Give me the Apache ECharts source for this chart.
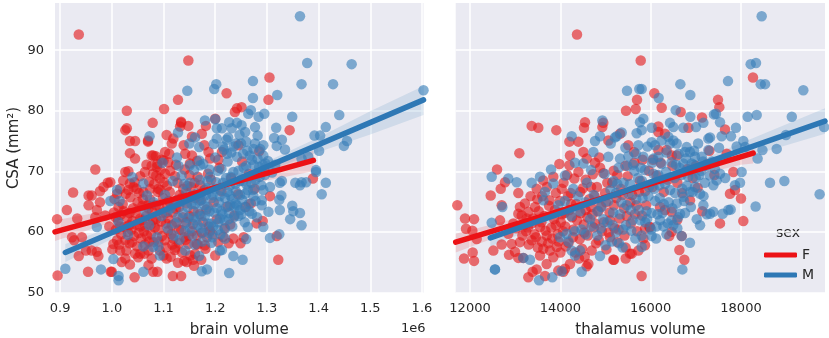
<!DOCTYPE html>
<html><head><meta charset="utf-8">
<style>html,body{margin:0;padding:0;background:#fff}#c{width:829px;height:338px}</style>
<script src="https://cdn.jsdelivr.net/npm/echarts@6/dist/echarts.min.js"></script>
</head><body><div id="c"></div>
<script>
const brainTicks=[0.9,1.0,1.1,1.2,1.3,1.4,1.5,1.6];
const thalamusTicks=[12000,14000,16000,18000];
const csaTicks=[50,60,70,80,90];
const brainF=[[0.936,92.6],[1.148,88.3],[1.128,81.8],[1.029,80],[1.101,80.3],[1.079,78],[1.134,78],[1.148,77.5],[1.029,77.1],[1.026,76.8],[1.106,76],[1.07,74.9],[1.07,75.1],[1.035,75],[1.045,75],[1.035,73],[1.045,72.1],[1.077,72.6],[0.968,70.3],[1.032,70],[1.305,85.5],[1.222,82.9],[1.303,81.8],[1.242,80.4],[1.251,80.6],[1.238,79.8],[1.344,76.8],[1.389,68.8],[1.306,65.9],[1.292,61.8],[1.28,61.4],[1.269,64.7],[1.322,55.4],[1.319,59.3],[1.255,59.1],[1.249,58.1],[1.235,58.9],[1.226,58.1],[0.895,52.8],[0.954,53.4],[0.998,53.4],[1.044,52.5],[1.08,53.4],[1.088,53.4],[1.118,52.7],[1.134,52.7],[0.894,62.1],[0.913,63.6],[0.925,66.5],[0.955,66],[0.961,66],[0.955,64.4],[0.933,62.2],[0.977,64.9],[0.992,68.1],[0.984,67.4],[0.977,66.7],[0.971,63.6],[0.968,62.4],[0.923,59.1],[0.942,59.1],[0.936,56],[0.95,56.9],[0.961,56.9],[0.971,56.7],[0.974,56],[0.927,58.6],[1.003,58],[1.103,73.2],[1.085,72.5],[1.08,72.6],[1.109,71.5],[1.151,71.3],[1.142,72.9],[1.187,73.2],[1.179,74.3],[1.139,74.3],[1.116,74.6],[1.134,78.2],[1.132,77.4],[1.182,77.5],[1.174,76.2],[1.155,75.7],[1.119,75.4],[1.2,78.7],[1.245,74.3],[1.213,73.2],[1.206,71.9],[1.026,69.9],[1.055,69.2],[1.022,68.5],[0.997,68.2],[1.035,68],[1.042,67.4],[1.016,67.1],[1.01,66.3],[1.061,66.6],[1.074,67.1],[1.09,67.1],[1.093,68.8],[1.103,69.6],[1.1,71.8],[1.087,70.7],[1.08,69.6],[1.01,58.6],[1.026,58.6],[1.039,58.3],[1.016,56.9],[1.026,55.6],[1.035,54.6],[1.019,55],[1,53.4],[1.055,56.4],[1.051,55.8],[1.071,54.5],[1.071,56.9],[1.1,56.1],[1.106,55.6],[1.122,57],[1.148,58],[1.164,58],[1.18,57.8],[1.161,56.4],[1.157,55.4],[1.145,55],[1.14,55.2],[1.2,56.1],[1.19,60.2],[1.004,63.2],[1.012,61.9],[1.021,64.6],[1.008,60.4],[0.987,62.7],[0.995,60.9],[1.018,59.6],[1.03,62.3],[1.036,65.7],[1.041,63.9],[1.047,61.2],[1.053,66.4],[1.059,64.3],[1.062,60.1],[1.066,62.6],[1.072,68.3],[1.074,65.4],[1.078,63.4],[1.083,60.7],[1.086,69.3],[1.089,66.6],[1.092,64.1],[1.095,61.7],[1.097,59.3],[1.104,63.1],[1.107,67.6],[1.11,65.1],[1.113,70.1],[1.116,61.1],[1.119,58.9],[1.124,63.8],[1.127,68.1],[1.131,66.1],[1.134,60.3],[1.137,62.4],[1.141,70.3],[1.145,64.7],[1.149,59.4],[1.153,67.4],[1.157,61.3],[1.161,65.6],[1.166,69.1],[1.17,62.9],[1.174,59.9],[1.179,66.9],[1.183,63.7],[1.188,60.9],[1.192,68.6],[1.197,64.9],[1.203,62.1],[1.208,70.6],[1.212,66.7],[1.218,60.6],[1.224,64.2],[1.231,68.9],[1.237,62.7],[1.244,66.2],[1.252,71.6],[1.259,64.1],[1.265,69.6],[1.276,67.1],[1.285,73.3],[1.295,70.2],[1.001,57.1],[1.014,57.9],[1.024,60.8],[1.028,56.9],[1.033,61.1],[1.043,59.3],[1.049,57.6],[1.057,58.9],[1.063,56.4],[1.068,59.4],[1.077,55.6],[1.081,58.3],[1.086,62.1],[1.093,56.9],[1.102,58.6],[1.109,60.2],[1.114,55.9],[1.123,57.4],[1.128,54.9],[1.136,56.6],[1.143,58.7],[1.152,56.1],[1.159,54.4],[1.166,57.9],[1.173,55.4],[1.184,59.1],[1.206,58.3],[1.215,59.2],[1.229,61.2],[1.005,65.4],[1.017,62.8],[1.027,66.3],[1.038,60.4],[1.044,68.2],[1.05,64.9],[1.058,61.9],[1.064,69.9],[1.069,64.4],[1.075,61.2],[1.082,67.9],[1.088,71.2],[1.094,70.2],[1.099,65.6],[1.105,61.4],[1.112,66.6],[1.118,63.2],[1.122,69.2],[1.13,64.1],[1.138,67.1],[1.144,61.6],[1.15,69.4],[1.158,63.4],[1.165,71.7],[1.172,65.2],[1.19,72.1]];
const brainFDense=[[1.007,62.4],[1.015,60.9],[1.023,63.4],[1.031,60],[1.034,63.1],[1.04,61.8],[1.046,63.1],[1.052,59.8],[1.055,62.2],[1.06,65.4],[1.065,60.9],[1.071,63.9],[1.076,59.6],[1.08,61.9],[1.085,64.4],[1.09,60.4],[1.094,66.9],[1.098,63.2],[1.101,68.2],[1.106,64.6],[1.109,62.2],[1.115,59.6],[1.12,64.7],[1.125,61.6],[1.13,58.1],[1.135,65.6],[1.14,59.1],[1.146,67.6],[1.15,62.6],[1.155,60.1],[1.16,68.1],[1.165,59.4],[1.171,67.7],[1.176,61.6],[1.181,57.2],[1.186,69.6],[1.195,59.6],[1.034,58.1],[1.045,56.4],[1.055,60.9],[1.064,57.9],[1.072,58.4],[1.09,58.4],[1.105,57.4],[1.117,57.9],[1.13,60.4],[1.032,66.9],[1.013,64.1],[1.048,67.1],[1.067,71.1],[1.096,71.9],[1.077,70.9],[1.111,72.9],[1.124,71.1],[1.155,72.6]];
const brainM=[[1.364,95.6],[1.378,87.9],[1.464,87.7],[1.367,84.4],[1.428,84.4],[1.273,84.9],[1.273,82.1],[1.32,82.6],[1.603,83.4],[1.44,79.3],[1.349,79],[1.295,79.5],[1.269,80.1],[1.284,79],[1.264,79.5],[1.414,77.3],[1.318,77.2],[1.392,75.9],[1.403,75.9],[1.455,75],[1.449,74.2],[1.401,73.4],[1.314,75.5],[1.329,75.2],[1.319,74.2],[1.335,73.6],[1.282,75.9],[1.277,77.3],[1.227,78.1],[1.242,78],[1.251,77.6],[1.232,77.1],[1.258,76.5],[1.247,76],[1.213,77.1],[1.222,75.2],[1.277,74.6],[1.274,73.7],[1.267,72.6],[1.287,73.7],[1.293,74.3],[1.293,72.6],[1.297,71.3],[1.38,72.4],[1.367,72.1],[1.395,70.2],[1.073,75.8],[1.146,83.3],[1.198,83.6],[1.202,84.4],[1.18,78.4],[1.2,78.6],[1.128,76.4],[1.15,74.6],[1.161,75.6],[1.169,74],[1.197,74.5],[1.203,75.4],[1.203,77.1],[1.126,72.3],[1.098,71.4],[1.129,70.9],[1.151,71],[1.169,71.8],[1.171,71],[1.189,70.3],[0.91,53.9],[0.979,53.8],[1.013,52.7],[1.013,52],[1.003,55.5],[1.061,53.4],[1.174,53.5],[1.184,53.8],[1.01,66.9],[0.997,65.1],[1.015,65.1],[0.971,60.8],[1.031,59.5],[1.013,61.6],[1.068,66],[1.04,69],[1.061,68],[1.093,56.1],[1.142,56.9],[1.169,56],[1.061,57.6],[1.08,57.5],[1.193,58.2],[1.209,56.9],[1.227,53.2],[1.253,55.4],[1.235,56],[1.213,57],[1.26,58.8],[1.219,58.9],[1.306,59],[1.324,59.6],[1.367,61.1],[1.345,62.1],[1.364,63.1],[1.325,63.6],[1.303,63.3],[1.351,63.4],[1.349,64.3],[1.324,65.3],[1.328,66],[1.406,66.2],[1.414,68.1],[1.364,67.7],[1.367,68.2],[1.355,68.1],[1.376,68.2],[1.395,69.9],[1.325,68.1],[1.329,68.4],[1.263,60.8],[1.293,60.8],[1.29,64.4],[1.29,65.2],[1.271,63],[1.248,63.6],[1.229,64.4],[1.239,64.7],[1.219,60.5],[1.209,62.2],[1.229,66],[1.258,66.3],[1.273,66.9],[1.293,66.9],[1.306,67.4],[1.065,63.4],[1.072,61.1],[1.081,64.9],[1.087,59.1],[1.096,62.6],[1.103,66.1],[1.108,60.6],[1.114,63.9],[1.118,68.4],[1.122,61.4],[1.126,65.2],[1.131,58.7],[1.135,69.3],[1.138,63.1],[1.141,60.1],[1.144,66.7],[1.147,62.3],[1.151,68.1],[1.154,64.6],[1.156,59.4],[1.159,70.2],[1.162,61.9],[1.164,66.3],[1.167,63.4],[1.17,68.6],[1.172,60.6],[1.175,65.4],[1.177,71.2],[1.18,62.6],[1.183,67.2],[1.185,64.1],[1.188,59.8],[1.19,69.1],[1.192,61.4],[1.195,66.1],[1.198,63.2],[1.2,72.3],[1.202,68.2],[1.205,60.3],[1.207,64.9],[1.21,66.9],[1.212,70.4],[1.214,62.9],[1.217,73.6],[1.219,65.6],[1.221,68.9],[1.224,71.6],[1.226,62.1],[1.228,67.6],[1.231,73.1],[1.233,60.9],[1.235,69.9],[1.237,64.1],[1.24,66.7],[1.242,72.4],[1.245,62.6],[1.247,68.4],[1.25,74.6],[1.252,65.3],[1.255,70.6],[1.257,61.6],[1.26,67.9],[1.262,73.4],[1.265,64.6],[1.268,69.2],[1.271,71.9],[1.274,65.9],[1.278,68.6],[1.281,62.4],[1.285,70.7],[1.289,67.7],[1.296,69.4],[1.302,71.7],[1.31,69.8],[1.316,71.1],[1.225,75.6],[1.26,74.9],[1.24,74.6],[1.215,74.1]];
const brainMDense=[[1.128,62.4],[1.134,64.9],[1.142,61.4],[1.146,64.1],[1.152,60.6],[1.158,62.4],[1.161,64.6],[1.166,61.1],[1.169,65.1],[1.173,62.6],[1.176,59.9],[1.179,64.4],[1.182,66.1],[1.186,61.4],[1.189,63.4],[1.193,65.6],[1.196,60.9],[1.199,67.1],[1.203,63.9],[1.206,61.6],[1.209,65.9],[1.212,63.4],[1.215,68.1],[1.218,61.9],[1.221,64.1],[1.224,66.6],[1.227,63.1],[1.23,69.1],[1.233,65.4],[1.236,62.4],[1.239,67.9],[1.242,64.4],[1.245,70.1],[1.248,66.1],[1.251,62.9],[1.254,68.4],[1.257,64.1],[1.26,70.9],[1.263,66.9],[1.266,63.4],[1.27,68.1],[1.274,71.1],[1.278,65.1],[1.282,72.1],[1.286,69.1],[1.292,71.1],[1.223,72.9],[1.236,74.1],[1.254,72.9],[1.17,66.1],[1.155,65.9],[1.205,70.1],[1.185,68.4],[1.14,67.9],[1.12,59.4],[1.108,63.4],[1.09,57.6],[1.175,58.4],[1.195,59.1],[1.16,57.9],[1.21,59.6]];
const thalamusF=[[14369,92.6],[15780,88.3],[15698,81.8],[15668,80.3],[15454,80],[14546,78.1],[14951,78],[14524,77.2],[14930,77.3],[13365,77.5],[13512,77.2],[13911,76.8],[14200,74.9],[14399,74.9],[13092,73],[12598,70.3],[13978,71.2],[14214,72.6],[14509,73.2],[14200,71],[14768,71.4],[14584,72.1],[14862,72.3],[15321,76.2],[15063,75.1],[15505,74.3],[15631,73.2],[18265,85.5],[16081,82.9],[17491,81.8],[17520,80.6],[16244,80.5],[16665,79.8],[17137,78.9],[16836,77.2],[17646,76.9],[16170,77.4],[16170,76.5],[16317,76.2],[16576,72.6],[16170,73.5],[16354,73.5],[17683,72.9],[18051,61.8],[17535,61.4],[18000,65.5],[17756,66.3],[17867,66.9],[17830,69.9],[17143,63.4],[16871,65.2],[16589,62],[16465,60],[16412,59.3],[16687,59.3],[16635,57],[16746,55.4],[15800,52.7],[15972,60.8],[15875,60.5],[15838,58.9],[15875,57.8],[16207,64.1],[16317,63.6],[16465,63.3],[11719,64.4],[11889,62.2],[12089,62.1],[11911,60.5],[12052,60.2],[12148,58.8],[12059,56.6],[11867,55.6],[12089,55.2],[12664,61.9],[12458,66],[12775,68.2],[12680,67.1],[13070,66.4],[12701,64.4],[12517,56.9],[12701,57.9],[12922,58],[13106,58.3],[12848,59.7],[12959,61.4],[12863,56.2],[12996,56.7],[13070,55.7],[13180,55.7],[13291,52.5],[13387,53.4],[13476,53.8],[13660,52.7],[13550,56.1],[13697,54.7],[13844,55.8],[13771,56.9],[13919,57.5],[13623,57.2],[13106,64.1],[13217,64.7],[13291,63.3],[13145,62.7],[13256,62.2],[13070,63],[13402,62.2],[13550,60.8],[13365,58.6],[13955,53.6],[14103,53.9],[14694,56.9],[14620,54.7],[15188,55.4],[15447,55.6],[15542,56.4],[15727,56.9],[13623,68.5],[13844,69.1],[13476,67.1],[15173,55.4],[15579,56.4],[15447,57.4],[14584,54.3],[14214,54.7],[14066,53.4],[14413,55.6],[15985,60.8],[14150,69.4],[14310,68.8],[14720,69.5],[14950,69.7],[15180,70.1],[14500,67.2],[14030,67.1],[13760,65.2],[13280,60.7],[13430,59.6],[13670,60.2],[13820,58.9],[13940,59.6],[14060,60.1],[14180,58.2],[14290,60.4],[14430,58.8],[14520,61.2],[14610,59.4],[14740,60.7],[14850,58.6],[14960,61.6],[15070,59.9],[15200,60.6],[15310,62.2],[15420,59.4],[15560,61.4],[15700,60.1],[15810,62.7],[13520,63.4],[13640,62.6],[13750,64.3],[13860,62.1],[13990,65.1],[14090,63.1],[14170,65.9],[14260,62.4],[14350,64.6],[14440,66.6],[14560,63.6],[14640,65.4],[14710,62.9],[14810,67.4],[14900,64.2],[14990,66.4],[15090,63.2],[15150,68.1],[15240,65.6],[15340,67.1],[15410,63.9],[15490,69.2],[15590,66.1],[15680,64.4],[15760,68.4],[15880,66.7],[15960,70.1],[16040,67.4],[16130,69.3],[16220,71.4],[16290,66.6],[16380,68.6],[16480,70.9],[16590,68.1],[16700,66.4],[16810,70.4],[16930,68.9],[17040,67.3],[17250,71.2],[17410,69.4],[13190,61.1],[13340,65.9],[13490,65.4],[13590,58.4],[13730,58.1],[13900,61.1],[14010,61.6],[14120,57.6],[14330,56.6],[14480,57.2],[14790,58.1],[15020,57.1],[15260,58.3]];
const thalamusFDense=[[13240,60.1],[13370,61.4],[13460,59.1],[13580,61.6],[13700,59.4],[13800,60.7],[13880,63.6],[13960,58.4],[14040,62.9],[14110,60.9],[14200,63.6],[14280,59.1],[14370,61.9],[14450,63.1],[14530,59.9],[14600,62.4],[14680,64.1],[14770,61.4],[14840,63.4],[14920,60.1],[15010,64.9],[15100,61.9],[15190,64.4],[15290,60.4],[15380,66.1],[15470,62.6],[15550,64.9],[15650,62.9],[15740,66.6],[15900,64.4],[13160,59.4],[13300,57.9],[13440,64.1],[13600,65.9],[13700,67.4],[13900,66.4],[14070,68.1],[14230,66.4],[14400,69.9],[14560,68.6],[14680,67.4],[14880,70.6],[15040,68.1],[15260,69.4],[15440,70.9],[15640,71.4],[15820,71.9],[13020,60.6],[13500,57.4],[14000,56.6],[14540,55.9],[15100,59.1],[14240,64.6],[14760,65.9],[16050,71.9],[16470,72.6],[17000,70.9],[17300,73.4]];
const thalamusM=[[18458,95.6],[18214,87.7],[18332,87.9],[18437,84.4],[18533,84.4],[19380,83.4],[17712,84.9],[16657,84.4],[16878,82.6],[16177,82.1],[15801,83.6],[18148,79],[18348,79.3],[19125,79],[16554,80.1],[16878,79],[17402,79.4],[17446,79.5],[17535,78.1],[17167,78],[17889,77.2],[17778,75.8],[17572,75.8],[19840,77.3],[18996,76],[18790,73.7],[18475,73.5],[18368,72.1],[18051,75],[17904,74.1],[18090,74],[17513,73.9],[17277,75.4],[17314,75.6],[17277,73.5],[15838,78.7],[15764,78.1],[16023,77.2],[16428,78],[16502,77.3],[16723,77.2],[17004,77.3],[15801,76.8],[16023,74.8],[16096,74.3],[16391,75.7],[16502,75.1],[16576,74.6],[16428,74.6],[16797,74],[16870,73.2],[17130,72.4],[16760,73.2],[16981,72.4],[16170,72.4],[16060,72.1],[15838,72.4],[16465,71.5],[16723,71.3],[16908,71.3],[19741,66.2],[18642,68.1],[18960,68.4],[18324,64.2],[18014,69.9],[17978,68.1],[17867,67.7],[17771,63.7],[17719,63.6],[17594,63],[17387,63.3],[17314,63],[17167,64.4],[17093,61.1],[16687,59.3],[16870,58.2],[16701,53.8],[16023,59.3],[16280,60.9],[16207,61.9],[15801,57.5],[17461,68.5],[17387,67.7],[17314,69.3],[17535,69.6],[17093,66.3],[16981,67.4],[16870,66.6],[16723,65.8],[16576,64.7],[16650,63],[12480,69.1],[12480,61.5],[12848,68.8],[13033,68.2],[13365,68.1],[12716,64.1],[12553,53.8],[12553,53.8],[13528,52],[13822,52.5],[14029,53.5],[14472,53.4],[14878,56],[13180,55.7],[13328,55.4],[13623,65.2],[13660,66.6],[13550,69.1],[13844,68],[14103,69.3],[14287,67.1],[13955,64.4],[13993,59.1],[14141,59.7],[14325,56.1],[14435,56.9],[14252,56.9],[14251,75.8],[14930,78.4],[15476,83.3],[15748,83.6],[15358,76.4],[15247,75.8],[14878,75.8],[14768,75],[14731,73.2],[14325,71.4],[14509,71.3],[13794,70.3],[15062,72.4],[15321,72.1],[15505,72.5],[15690,76.3],[15727,74.3],[15115,74.6],[15210,75.6],[14240,62.6],[14390,65.9],[14470,60.4],[14590,68.1],[14660,62.1],[14740,66.1],[14820,59.4],[14910,64.1],[14980,69.6],[15040,61.6],[15110,66.9],[15170,63.2],[15230,59.9],[15290,70.6],[15350,64.9],[15400,68.1],[15450,61.1],[15510,66.3],[15560,63.6],[15610,71.1],[15660,58.9],[15720,68.9],[15770,61.9],[15820,65.6],[15870,70.2],[15910,63.4],[15960,67.4],[16010,60.4],[16060,69.6],[16100,65.1],[16150,62.9],[16190,67.7],[16240,71.2],[16290,64.6],[16340,69.9],[16380,61.4],[16430,66.9],[16480,63.9],[16530,68.9],[16590,60.6],[16640,70.6],[16700,67.1],[16760,63.1],[16830,69.1],[16890,64.1],[16950,71.1],[17020,62.1],[17080,69.4],[17170,65.9],[17230,70.9],[17240,62.9],[14180,58.4],[15000,57.8],[15300,58.1],[15570,60.2],[14560,59.6],[14100,65.1],[14680,70.2],[15440,73.9],[15640,70.1],[15930,74.1],[16240,75.1],[16620,72.9],[17050,74.6]];
const thalamusMDense=[[14820,63.4],[14950,62.1],[15060,65.1],[15160,61.1],[15230,66.4],[15320,62.9],[15390,60.4],[15470,64.4],[15540,67.9],[15600,61.9],[15680,65.4],[15740,63.6],[15810,68.4],[15880,61.6],[15950,65.9],[16020,63.1],[16080,67.1],[16130,60.9],[16200,65.6],[16260,63.1],[16320,67.9],[16400,64.9],[16460,61.9],[16540,66.4],[16610,62.4],[16680,69.4],[16740,65.1],[16800,67.6],[16860,70.1],[16930,66.6],[17000,68.9],[17120,70.1],[14430,63.4],[14560,64.9],[14690,60.9],[14320,60.1],[15180,68.4],[15260,67.9],[15480,70.9],[15670,72.9],[15780,70.6],[16030,71.4],[16170,69.4],[16350,73.1],[16560,71.1],[16780,72.1],[16960,73.4],[17160,71.6],[17360,71.6],[14900,60.6],[15140,58.4],[15380,57.4],[15800,59.4],[15920,62.1],[16120,58.9],[16350,59.6],[16500,61.1],[17200,68.1],[17420,70.4],[17650,68.9]];
const lineBrainF=[[0.89,60],[1.39,71.8]];
const lineBrainM=[[0.91,56.6],[1.603,81.8]];
const lineThalF=[[11683,58.3],[18270,73]];
const lineThalM=[[12450,59],[19860,78.3]];
const bandBrainF=[[0.89,58.5,61.9],[1,61.6,63.6],[1.1,64.4,65.6],[1.2,66.6,68],[1.3,68.5,70.8],[1.39,70,73.4]];
const bandBrainM=[[0.91,55,58],[1,58.8,60.8],[1.1,62.8,64.2],[1.2,66.65,67.75],[1.3,70,71.6],[1.4,73.2,75.6],[1.5,76.1,79.9],[1.603,79.3,84.1]];
const bandThalF=[[11683,56.6,59.7],[13000,60.3,62.2],[14000,62.9,64],[15000,65.15,66.25],[16000,67.3,68.5],[17000,69.3,71.1],[18000,71.1,73.7],[18270,71.3,74.5]];
const bandThalM=[[12450,57.6,60.4],[13500,60.8,62.6],[14500,63.6,65],[15500,66.35,67.45],[16500,68.85,70.15],[17500,71.1,73.1],[18500,73.2,76.2],[19860,76.2,80.4]];

const RED='#e41a1c',BLUE='#377eb8',LRED='#ec1216',LBLUE='#2e78b5',INK='#262626',FONT='"DejaVu Sans"';
function xAxis(i,min,max,ticks,name,fmt){return {type:'value',gridIndex:i,min,max,name,nameLocation:'middle',nameGap:30,
 nameTextStyle:{color:INK,fontSize:15,fontFamily:FONT},axisLine:{show:false},
 axisTick:{show:false,customValues:ticks},splitLine:{show:true,lineStyle:{color:'#fff',width:1.5}},
 axisLabel:{color:INK,fontSize:13,fontFamily:FONT,margin:9,customValues:ticks,formatter:fmt,hideOverlap:false}};}
function yAxis(i,show){return {type:'value',gridIndex:i,min:49.9,max:97.8,name:show?'CSA (mm²)':'',nameLocation:'middle',nameGap:33,
 nameTextStyle:{color:INK,fontSize:15,fontFamily:FONT},axisLine:{show:false},
 axisTick:{show:false,customValues:csaTicks},splitLine:{show:true,lineStyle:{color:'#fff',width:1.5}},
 axisLabel:{show:show,color:INK,fontSize:13,fontFamily:FONT,margin:11,customValues:csaTicks}};}
function scatter(i,name,data,color){return {type:'scatter',name,xAxisIndex:i,yAxisIndex:i,data,symbolSize:10.5,silent:true,animation:false,
 itemStyle:{color,opacity:0.62,borderWidth:0}};}
function band(i,data,color){return {type:'custom',xAxisIndex:i,yAxisIndex:i,data:[0],silent:true,animation:false,clip:true,
 renderItem(p,api){const up=data.map(d=>api.coord([d[0],d[2]]));const lo=data.slice().reverse().map(d=>api.coord([d[0],d[1]]));
  return {type:'polygon',shape:{points:up.concat(lo)},style:{fill:color,opacity:0.15}};}};}
function line(i,name,data,color){return {type:'line',name,xAxisIndex:i,yAxisIndex:i,data,showSymbol:false,silent:true,animation:false,
 itemStyle:{color},lineStyle:{color,width:5.5,cap:'round'}};}
const chart=echarts.init(document.getElementById('c'),null,{renderer:'canvas'});
chart.setOption({animation:false,backgroundColor:'#fff',
 grid:[{left:55,top:3,width:368.5,height:290,show:true,backgroundColor:'#EAEAF2',borderWidth:0,outerBoundsMode:'none'},
       {left:455.7,top:3,width:369.3,height:290,show:true,backgroundColor:'#EAEAF2',borderWidth:0,outerBoundsMode:'none'}],
 xAxis:[xAxis(0,0.89,1.603,brainTicks,'brain volume',v=>v.toFixed(1)),xAxis(1,11683,19860,thalamusTicks,'thalamus volume',v=>String(v))],
 yAxis:[yAxis(0,true),yAxis(1,false)],
 legend:{left:759,top:243,orient:'vertical',itemWidth:33,itemHeight:5,itemGap:6,icon:'roundRect',selectedMode:false,
  data:['F','M'],textStyle:{color:INK,fontSize:14,fontFamily:FONT,padding:[0,0,0,0]}},
 graphic:[
  {type:'text',left:776,top:226,silent:true,style:{text:'sex',fill:INK,font:'14px "DejaVu Sans"'}},
  {type:'text',left:401,top:322,silent:true,style:{text:'1e6',fill:INK,font:'13px "DejaVu Sans"'}}],
 series:[
  scatter(0,'F pts',brainF.concat(brainFDense),RED),band(0,bandBrainF,RED),scatter(0,'M pts',brainM.concat(brainMDense),BLUE),band(0,bandBrainM,BLUE),
  scatter(1,'F pts r',thalamusF.concat(thalamusFDense),RED),band(1,bandThalF,RED),scatter(1,'M pts r',thalamusM.concat(thalamusMDense),BLUE),band(1,bandThalM,BLUE),
  line(0,'F',lineBrainF,LRED),line(0,'M',lineBrainM,LBLUE),line(1,'F',lineThalF,LRED),line(1,'M',lineThalM,LBLUE)]
});
</script></body></html>
